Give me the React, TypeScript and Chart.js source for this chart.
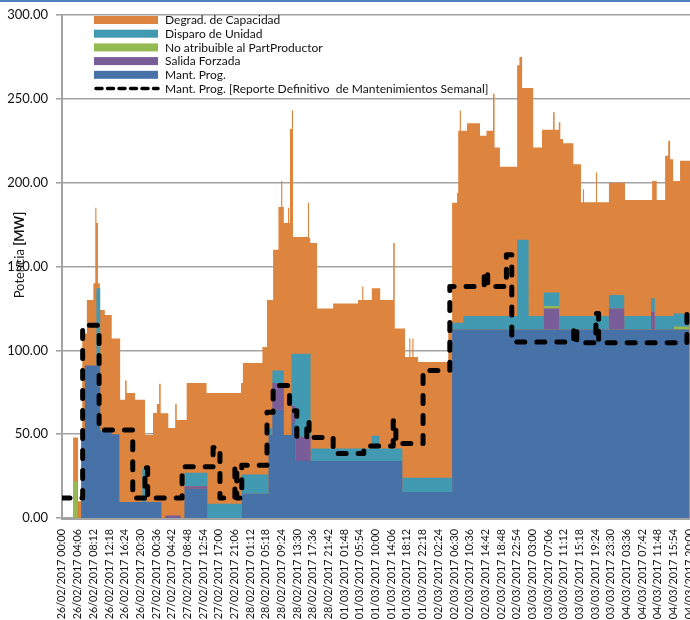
import React, { useEffect, useRef } from "react";
import { Chart, registerables } from "chart.js";

Chart.register(...registerables);

// ---- Tick labels of the category axis (every 246 min) ----
const tickLabels = [
  "26/02/2017 00:00", "26/02/2017 04:06", "26/02/2017 08:12", "26/02/2017 12:18", "26/02/2017 16:24",
  "26/02/2017 20:30", "27/02/2017 00:36", "27/02/2017 04:42", "27/02/2017 08:48", "27/02/2017 12:54",
  "27/02/2017 17:00", "27/02/2017 21:06", "28/02/2017 01:12", "28/02/2017 05:18", "28/02/2017 09:24",
  "28/02/2017 13:30", "28/02/2017 17:36", "28/02/2017 21:42", "01/03/2017 01:48", "01/03/2017 05:54",
  "01/03/2017 10:00", "01/03/2017 14:06", "01/03/2017 18:12", "01/03/2017 22:18", "02/03/2017 02:24",
  "02/03/2017 06:30", "02/03/2017 10:36", "02/03/2017 14:42", "02/03/2017 18:48", "02/03/2017 22:54",
  "03/03/2017 03:00", "03/03/2017 07:06", "03/03/2017 11:12", "03/03/2017 15:18", "03/03/2017 19:24",
  "03/03/2017 23:30", "04/03/2017 03:36", "04/03/2017 07:42", "04/03/2017 11:48", "04/03/2017 15:54",
  "04/03/2017 20:00",
];

// ---- Hourly values (MW), hour 0 = 26/02/2017 00:00, index i covers [i, i+1) ----
const mantProg = [
  0, 0, 0, 0, 0, 48, 91, 91, 91, 91,
  52, 52, 52, 50, 50, 9.5, 9.5, 9.5, 9.5, 9.5,
  9.5, 9.5, 9.5, 9.5, 9.5, 9.5, 0, 0, 0, 0,
  0, 0, 17.5, 17.5, 17.5, 17.5, 17.5, 17.5, 0, 0,
  0, 0, 0, 0, 0, 0, 0, 14.5, 14.5, 14.5,
  14.5, 14.5, 14.5, 14.5, 49.5, 64.5, 64.5, 64.5, 49.5, 49.5,
  57, 34, 34, 34, 34, 34, 34, 34, 34, 34,
  34, 34, 34, 34, 34, 34, 34, 34, 34, 34,
  34, 34, 34, 34, 34, 34, 34, 34, 34, 15.5,
  15.5, 15.5, 15.5, 15.5, 15.5, 15.5, 15.5, 15.5, 15.5, 15.5,
  15.5, 15.5, 112.5, 112.5, 112.5, 112.5, 112.5, 112.5, 112.5, 112.5,
  112.5, 112.5, 112.5, 112.5, 112.5, 112.5, 112.5, 112.5, 112.5, 112.5,
  112.5, 112.5, 112.5, 112.5, 112.5, 112.5, 112.5, 112.5, 112.5, 112.5,
  112.5, 112.5, 112.5, 112.5, 112.5, 112.5, 112.5, 112.5, 112.5, 112.5,
  112.5, 112.5, 112.5, 112.5, 112.5, 112.5, 112.5, 112.5, 112.5, 112.5,
  112.5, 112.5, 112.5, 112.5, 112.5, 112.5, 112.5, 112.5, 112.5, 112.5,
  112.5, 112.5, 112.5, 112.5, 112.5,
];

const salidaForzada = [
  0, 0, 0, 0, 0, 0, 0, 0, 0, 0,
  0, 0, 0, 0, 0, 0, 0, 0, 0, 0,
  0, 0, 0, 0, 0, 0, 0, 1.5, 1.5, 1.5,
  1.5, 0, 1.5, 1.5, 1.5, 1.5, 1.5, 1.5, 0, 0,
  0, 0, 0, 0, 0, 0, 0, 0, 0, 0,
  0, 0, 0, 0, 0, 16, 16, 16, 0, 0,
  10, 14.5, 14.5, 14.5, 14.5, 0, 0, 0, 0, 0,
  0, 0, 0, 0, 0, 0, 0, 0, 0, 0,
  0, 0, 0, 0, 0, 0, 0, 0, 0, 0,
  0, 0, 0, 0, 0, 0, 0, 0, 0, 0,
  0, 0, 0, 0, 0, 0, 0, 0, 0, 0,
  0, 0, 0, 0, 0, 0, 0, 0, 0, 0,
  0, 0, 0, 0, 0, 0, 12.5, 12.5, 12.5, 12.5,
  0, 0, 0, 0, 0, 0, 0, 0, 0, 0,
  0, 0, 0, 12.5, 12.5, 12.5, 12.5, 0, 0, 0,
  0, 0, 0, 0, 10.5, 0, 0, 0, 0, 0,
  0, 0, 0, 0, 0,
];

const noAtribuible = [
  0, 0, 0, 22, 0, 0, 0, 0, 0, 0,
  0, 0, 0, 0, 0, 0, 0, 0, 0, 0,
  0, 0, 0, 0, 0, 0, 0, 0, 0, 0,
  0, 0, 0, 0, 0, 0, 0, 0, 0, 0,
  0, 0, 0, 0, 0, 0, 0, 0, 0, 0,
  0, 0, 0, 0, 0, 0, 0, 0, 0, 0,
  0, 0, 0, 0, 0, 0, 0, 0, 0, 0,
  0, 0, 0, 0, 0, 0, 0, 0, 0, 0,
  0, 0, 0, 0, 0, 0, 0, 0, 0, 0,
  0, 0, 0, 0, 0, 0, 0, 0, 0, 0,
  0, 0, 0, 0, 0, 0, 0, 0, 0, 0,
  0, 0, 0, 0, 0, 0, 0, 0, 0, 0,
  0, 0, 0, 0, 0, 0, 1.5, 1.5, 1.5, 1.5,
  0, 0, 0, 0, 0, 0, 0, 0, 0, 0,
  0, 0, 0, 0, 0, 0, 0, 0, 0, 0,
  0, 0, 0, 0, 0, 0, 0, 0, 0, 0,
  1.5, 1.5, 1.5, 1.5, 1.5,
];

const disparoUnidad = [
  0, 0, 0, 0, 0, 0, 0, 0, 0, 46,
  0, 0, 0, 0, 0, 0, 0, 0, 0, 0,
  0, 20, 0, 0, 0, 0, 0, 0, 0, 0,
  0, 0, 8, 8, 8, 8, 8, 8, 8.5, 8.5,
  8.5, 8.5, 8.5, 8.5, 8.5, 8.5, 8.5, 11.5, 11.5, 11.5,
  11.5, 11.5, 11.5, 11.5, 4, 7.5, 7.5, 7.5, 0, 0,
  31, 49.5, 49.5, 49.5, 49.5, 7.5, 7.5, 7.5, 7.5, 7.5,
  7.5, 7.5, 7.5, 7.5, 7.5, 7.5, 7.5, 7.5, 7.5, 7.5,
  7.5, 15, 15, 7.5, 7.5, 7.5, 7.5, 7.5, 7.5, 8.5,
  8.5, 8.5, 8.5, 8.5, 8.5, 8.5, 8.5, 8.5, 8.5, 8.5,
  8.5, 8.5, 4, 4, 4, 8, 8, 8, 8, 8,
  8, 8, 8, 8, 8, 8, 8, 8, 8, 53.5,
  53.5, 53.5, 8, 8, 8, 8, 8, 8, 8, 8,
  8, 8, 8, 8, 8, 8, 8, 8, 8, 8,
  8, 8, 8, 8, 8, 8, 8, 8, 8, 8,
  8, 8, 8, 8, 8, 8, 8, 8, 8, 8,
  8, 8, 8, 8, 8,
];

// Upper edge of the "Degrad. de Capacidad" band: [hour, MW] change points
const degradTop = [
  [0, 0], [2.9, 48], [4.2, 10], [5.3, 110], [6.5, 130], [8.2, 140], [8.7, 185], [9.0, 176],
  [9.4, 140], [9.9, 124], [11.2, 121], [13.0, 107], [15.2, 70.5], [16.5, 82], [16.9, 74.5],
  [19.1, 70.5], [21.7, 49.5], [23.8, 62.6], [24.8, 68], [25.4, 80], [25.8, 62.5], [27.8, 53.7],
  [29.6, 68], [30.0, 58.5], [32.6, 80.5], [37.8, 74.5], [46.8, 80.5], [47.3, 92.4], [52.4, 102],
  [53.6, 130], [55.2, 160], [56.6, 185.5], [57.3, 201], [57.6, 185.5], [58.0, 176], [59.1, 185],
  [59.4, 176], [59.6, 232], [60.1, 243], [60.4, 167.6], [64.3, 188], [64.6, 167], [64.9, 164],
  [66.7, 125], [70.9, 128], [77.4, 130], [78.5, 138], [78.8, 130], [81.0, 137], [83.2, 130],
  [86.6, 164], [87.0, 113], [89.7, 96], [90.8, 107], [91.1, 96], [91.6, 107], [91.9, 96],
  [93.1, 93], [101.0, 117], [102.0, 188], [103.3, 194], [103.6, 231], [104.0, 243], [104.3, 231],
  [105.9, 235.5], [109.3, 228], [111.0, 231], [112.7, 253], [113.1, 221], [114.5, 209.5],
  [119.0, 270], [119.6, 275], [120.3, 256.5], [123.2, 221], [125.5, 231.5], [128.4, 242],
  [128.8, 231.5], [129.9, 236], [130.3, 226], [131.0, 223.5], [133.7, 211], [135.7, 188.3],
  [136.2, 196], [136.5, 188.3], [139.6, 206], [139.9, 188.3], [143.0, 200], [147.2, 189.6],
  [154.3, 201], [155.5, 189.6], [157.7, 216], [158.5, 225], [159.0, 214], [159.8, 201],
  [161.6, 213], [164.2, 213],
];

// Mant. Prog. [Reporte Definitivo de Mantenimientos Semanal]: [hour, MW] change points
const mantProgReporte = [
  [0, 12], [5.4, 115], [9.7, 52.5], [18.5, 12], [21.7, 30], [22.4, 12], [31.4, 30.5],
  [39.5, 42], [41.3, 12], [45.2, 31], [45.7, 12], [47.0, 31.5], [53.6, 63], [55.2, 79],
  [59.5, 64], [61.4, 48], [64.0, 58], [64.6, 48], [70.9, 38.5], [78.9, 43], [86.6, 58],
  [87.3, 44.5], [94.4, 88], [101.4, 138], [110.4, 147], [111.3, 138], [116.2, 157],
  [117.6, 105], [133.8, 114], [134.6, 104.5], [139.6, 122], [140.3, 104.5], [163.4, 122],
  [164.2, 122],
];

const seriesNames = [
  "Mant. Prog.",
  "Salida Forzada",
  "No atribuible al PartProductor",
  "Disparo de Unidad",
  "Degrad. de Capacidad",
  "Mant. Prog. [Reporte Definitivo  de Mantenimientos Semanal]",
];

const X_MAX = 164.2;

const COLORS = {
  mant: "rgb(70,114,168)",
  salida: "rgb(121,93,152)",
  noAtr: "rgb(150,186,82)",
  disparo: "rgb(66,153,178)",
  degrad: "rgb(221,132,62)",
};

const toHours = (s: string) => {
  const [d, t] = s.split(" ");
  const [dd, mm, yy] = d.split("/").map(Number);
  const [HH, MM] = t.split(":").map(Number);
  return Date.UTC(yy, mm - 1, dd, HH, MM) / 3600000;
};
const t0 = toHours(tickLabels[0]);
const tickHours = tickLabels.map((s) => toHours(s) - t0);

const hourly = (arr: number[]) => arr.map((v, i) => ({ x: i, y: v }));
const pairs = (arr: number[][]) => arr.map(([x, y]) => ({ x, y }));

const FONT = "Lato, 'Open Sans', sans-serif";

const overlayPlugin = {
  id: "overlay",
  afterDatasetsDraw(chart: any) {
    const ctx = chart.ctx as CanvasRenderingContext2D;
    const ds = chart.data.datasets;
    const legendOrder = [4, 3, 2, 1, 0, 5];
    const boxX = 94, boxW = 64, boxH = 8, textX = 165, y0 = 20, dy = 13.7;
    ctx.save();
    ctx.font = `12px ${FONT}`;
    ctx.textBaseline = "middle";
    ctx.textAlign = "left";
    legendOrder.forEach((di, r) => {
      const d = ds[di];
      const cy = y0 + r * dy;
      if (di === 5) {
        ctx.save();
        ctx.strokeStyle = "#000";
        ctx.lineWidth = 3.5;
        ctx.lineCap = "round";
        ctx.setLineDash([6, 5.5]);
        ctx.beginPath();
        ctx.moveTo(boxX + 2, cy);
        ctx.lineTo(boxX + boxW, cy);
        ctx.stroke();
        ctx.restore();
      } else {
        ctx.fillStyle = d.backgroundColor;
        ctx.fillRect(boxX, cy - boxH / 2, boxW, boxH);
      }
      ctx.fillStyle = "#111";
      ctx.fillText(d.label, textX, cy + 0.5);
    });
    // Y axis title
    ctx.translate(20, 255);
    ctx.rotate(-Math.PI / 2);
    const p1 = "Potencia ";
    const p2 = "[MW]";
    ctx.font = `13px ${FONT}`;
    const w1 = ctx.measureText(p1).width;
    ctx.font = `bold 13px ${FONT}`;
    const w2 = ctx.measureText(p2).width;
    const start = -(w1 + w2) / 2;
    ctx.fillStyle = "#1a1a1a";
    ctx.font = `13px ${FONT}`;
    ctx.fillText(p1, start, 0);
    ctx.font = `bold 13px ${FONT}`;
    ctx.fillText(p2, start + w1, 0);
    ctx.restore();
  },
};

export default function App() {
  const ref = useRef<HTMLCanvasElement | null>(null);

  useEffect(() => {
    if (!ref.current) return;
    const common = { pointRadius: 0, borderWidth: 0, stepped: true as const };
    const chart = new Chart(ref.current, {
      type: "line",
      data: {
        datasets: [
          { ...common, label: seriesNames[0], data: hourly(mantProg), backgroundColor: COLORS.mant, borderColor: COLORS.mant, fill: "origin", stack: "base", order: 0 },
          { ...common, label: seriesNames[1], data: hourly(salidaForzada), backgroundColor: COLORS.salida, borderColor: COLORS.salida, fill: "-1", stack: "base", order: 0 },
          { ...common, label: seriesNames[2], data: hourly(noAtribuible), backgroundColor: COLORS.noAtr, borderColor: COLORS.noAtr, fill: "-1", stack: "base", order: 0 },
          { ...common, label: seriesNames[3], data: hourly(disparoUnidad), backgroundColor: COLORS.disparo, borderColor: COLORS.disparo, fill: "-1", stack: "base", order: 0 },
          { ...common, label: seriesNames[4], data: pairs(degradTop), backgroundColor: COLORS.degrad, borderColor: COLORS.degrad, fill: "origin", stack: "top", order: 1 },
          {
            label: seriesNames[5], data: pairs(mantProgReporte), stepped: true, pointRadius: 0,
            borderColor: "#000", backgroundColor: "#000", borderWidth: 5, borderDash: [8, 12],
            borderCapStyle: "round", borderJoinStyle: "round", fill: false, stack: "ref", order: -1,
          },
        ] as any,
      },
      options: {
        animation: false,
        responsive: false,
        devicePixelRatio: 1,
        layout: { padding: { top: 15, left: 0, right: 0, bottom: 0 } },
        plugins: { legend: { display: false }, tooltip: { enabled: false } },
        scales: {
          x: {
            type: "linear",
            min: 0,
            max: X_MAX,
            afterBuildTicks: (s: any) => {
              s.ticks = tickHours.map((v) => ({ value: v }));
            },
            afterFit: (s: any) => {
              s.height = 102;
              s.paddingLeft = 0;
              s.paddingRight = 0;
            },
            grid: { display: false },
            border: { display: true, color: "#a3a3a3", width: 3 },
            ticks: {
              autoSkip: false,
              minRotation: 90,
              maxRotation: 90,
              padding: 3,
              color: "#111",
              font: { family: FONT, size: 10.8 },
              callback: (_v: any, i: number) => tickLabels[i],
            },
          },
          y: {
            stacked: true,
            min: 0,
            max: 300,
            afterFit: (s: any) => {
              s.width = 62;
              s.paddingTop = 0;
              s.paddingBottom = 0;
            },
            grid: { color: "#a3a3a3", lineWidth: 1.6, tickLength: 6, drawTicks: true },
            border: { display: true, color: "#a3a3a3", width: 2 },
            ticks: {
              stepSize: 50,
              padding: 8,
              color: "#111",
              font: { family: FONT, size: 13 },
              callback: (v: any) => Number(v).toFixed(2),
            },
          },
        },
      } as any,
      plugins: [overlayPlugin],
    });
    return () => chart.destroy();
  }, []);

  return (
    <div style={{ position: "absolute", left: 0, top: 0, width: 690, height: 620, background: "#fff", overflow: "hidden" }}>
      <div style={{ position: "absolute", left: 0, top: 0, width: 690, height: 2, background: "#4f81bd" }} />
      <canvas ref={ref} width={690} height={620} style={{ display: "block" }} />
    </div>
  );
}
